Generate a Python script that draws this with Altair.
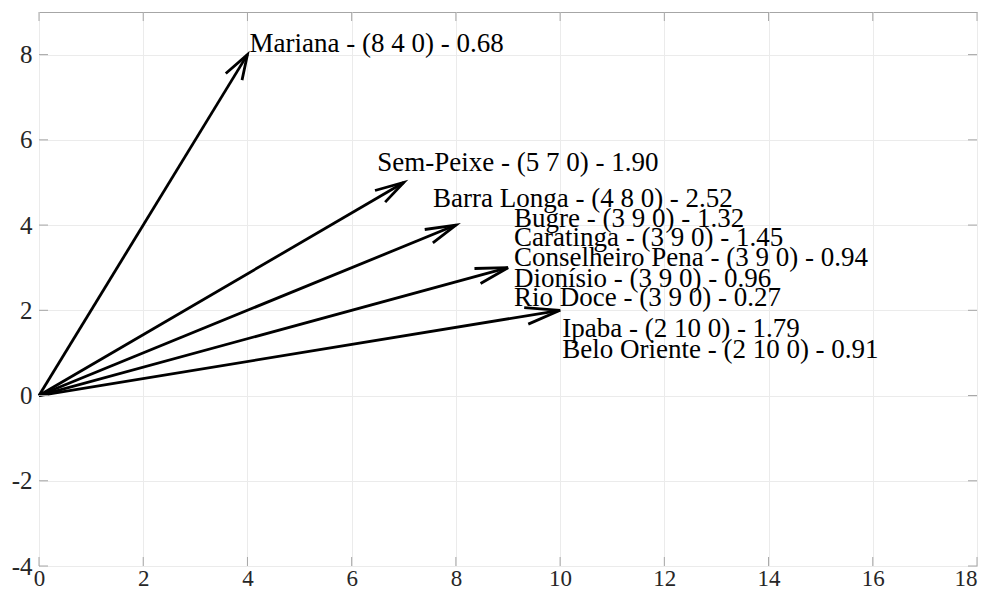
import altair as alt
import pandas as pd

# Vectors (arrow tips) drawn from the origin
vec_u = [4, 7, 8, 9, 10]
vec_v = [8, 5, 4, 3, 2]

# Label lines and their anchor positions (data units, left / baseline)
label_text = [
    "Mariana - (8 4 0) - 0.68",
    "Sem-Peixe - (5 7 0) - 1.90",
    "Barra Longa - (4 8 0) - 2.52",
    "Bugre - (3 9 0) - 1.32",
    "Caratinga - (3 9 0) - 1.45",
    "Conselheiro Pena - (3 9 0) - 0.94",
    "Dionísio - (3 9 0) - 0.96",
    "Rio Doce - (3 9 0) - 0.27",
    "Ipaba - (2 10 0) - 1.79",
    "Belo Oriente - (2 10 0) - 0.91",
]
label_x = [4.04, 6.49, 7.56, 9.115, 9.115, 9.115, 9.115, 9.115, 10.04, 10.04]
label_y = [8.05, 5.28, 4.43, 3.96, 3.51, 3.04, 2.55, 2.11, 1.38, 0.87]

x_ticks = [0, 2, 4, 6, 8, 10, 12, 14, 16, 18]
y_ticks = [-4, -2, 0, 2, 4, 6, 8]
x_domain = [0, 18]
y_domain = [-4, 9]

# quiver-style arrowhead parameters (relative to vector, in data units)
HEAD_A = 0.065
HEAD_B = 0.3

W, H = 938, 554
FONT = "Liberation Serif"
FRAME = "#a6a6a6"
GRID = "#ebebeb"

shaft_rows, head_rows = [], []
for i, (u, v) in enumerate(zip(vec_u, vec_v)):
    shaft_rows.append({"id": i, "o": 0, "x": 0, "y": 0})
    shaft_rows.append({"id": i, "o": 1, "x": u, "y": v})
    a1 = (u - HEAD_A * (u + HEAD_B * v), v - HEAD_A * (v - HEAD_B * u))
    a2 = (u - HEAD_A * (u - HEAD_B * v), v - HEAD_A * (v + HEAD_B * u))
    head_rows.append({"id": i, "o": 0, "x": a1[0], "y": a1[1]})
    head_rows.append({"id": i, "o": 1, "x": u, "y": v})
    head_rows.append({"id": i, "o": 2, "x": a2[0], "y": a2[1]})

shafts = pd.DataFrame(shaft_rows)
heads = pd.DataFrame(head_rows)
labels = pd.DataFrame({"t": label_text, "x": label_x, "y": label_y})
xt = pd.DataFrame({"v": x_ticks})
yt = pd.DataFrame({"v": y_ticks})

xs = alt.Scale(domain=x_domain, nice=False, zero=False)
ys = alt.Scale(domain=y_domain, nice=False, zero=False)

minus_fix = "datum.value < 0 ? '-' + abs(datum.value) : datum.label"

x_axis = alt.Axis(values=x_ticks, grid=True, gridColor=GRID, gridWidth=1,
                  domain=False, ticks=False, labelFont=FONT, labelFontSize=23,
                  labelColor="#262626", labelPadding=1, title=None,
                  labelExpr=minus_fix,
                  labelAlign={"condition": {"test": f"datum.value >= {x_domain[1]}",
                                            "value": "right"},
                              "value": "center"})
y_axis = alt.Axis(values=y_ticks, grid=True, gridColor=GRID, gridWidth=1,
                  domain=False, ticks=False, labelFont=FONT, labelFontSize=25,
                  labelColor="#262626", labelPadding=7, title=None,
                  labelExpr=minus_fix)

shaft_layer = alt.Chart(shafts).mark_line(color="black", strokeWidth=2.8).encode(
    x=alt.X("x:Q", scale=xs, axis=x_axis),
    y=alt.Y("y:Q", scale=ys, axis=y_axis),
    detail="id:N",
    order="o:Q",
)

head_layer = alt.Chart(heads).mark_line(color="black", strokeWidth=2.8,
                                        strokeJoin="miter").encode(
    x=alt.X("x:Q", scale=xs),
    y=alt.Y("y:Q", scale=ys),
    detail="id:N",
    order="o:Q",
)

text_layer = alt.Chart(labels).mark_text(
    align="left", baseline="alphabetic", font=FONT, fontSize=27, color="black"
).encode(
    x=alt.X("x:Q", scale=xs),
    y=alt.Y("y:Q", scale=ys),
    text="t:N",
)

TL = 9
tick_style = dict(color=FRAME, strokeWidth=1)
bottom_ticks = alt.Chart(xt).mark_rule(**tick_style).encode(
    x=alt.X("v:Q", scale=xs), y=alt.value(H), y2=alt.value(H - TL))
top_ticks = alt.Chart(xt).mark_rule(**tick_style).encode(
    x=alt.X("v:Q", scale=xs), y=alt.value(0), y2=alt.value(TL))
left_ticks = alt.Chart(yt).mark_rule(**tick_style).encode(
    y=alt.Y("v:Q", scale=ys), x=alt.value(0), x2=alt.value(TL))
right_ticks = alt.Chart(yt).mark_rule(**tick_style).encode(
    y=alt.Y("v:Q", scale=ys), x=alt.value(W), x2=alt.value(W - TL))

chart = alt.layer(
    shaft_layer, head_layer, text_layer,
    bottom_ticks, top_ticks, left_ticks, right_ticks,
).properties(
    width=W, height=H,
    autosize=alt.AutoSizeParams(type="none"),
    padding={"left": 31, "top": 4, "right": 8, "bottom": 22},
    background="white",
).configure_view(
    stroke=FRAME, strokeWidth=1, clip=False,
)

chart.save("out.html", embed_options={"renderer": "svg", "actions": False})
